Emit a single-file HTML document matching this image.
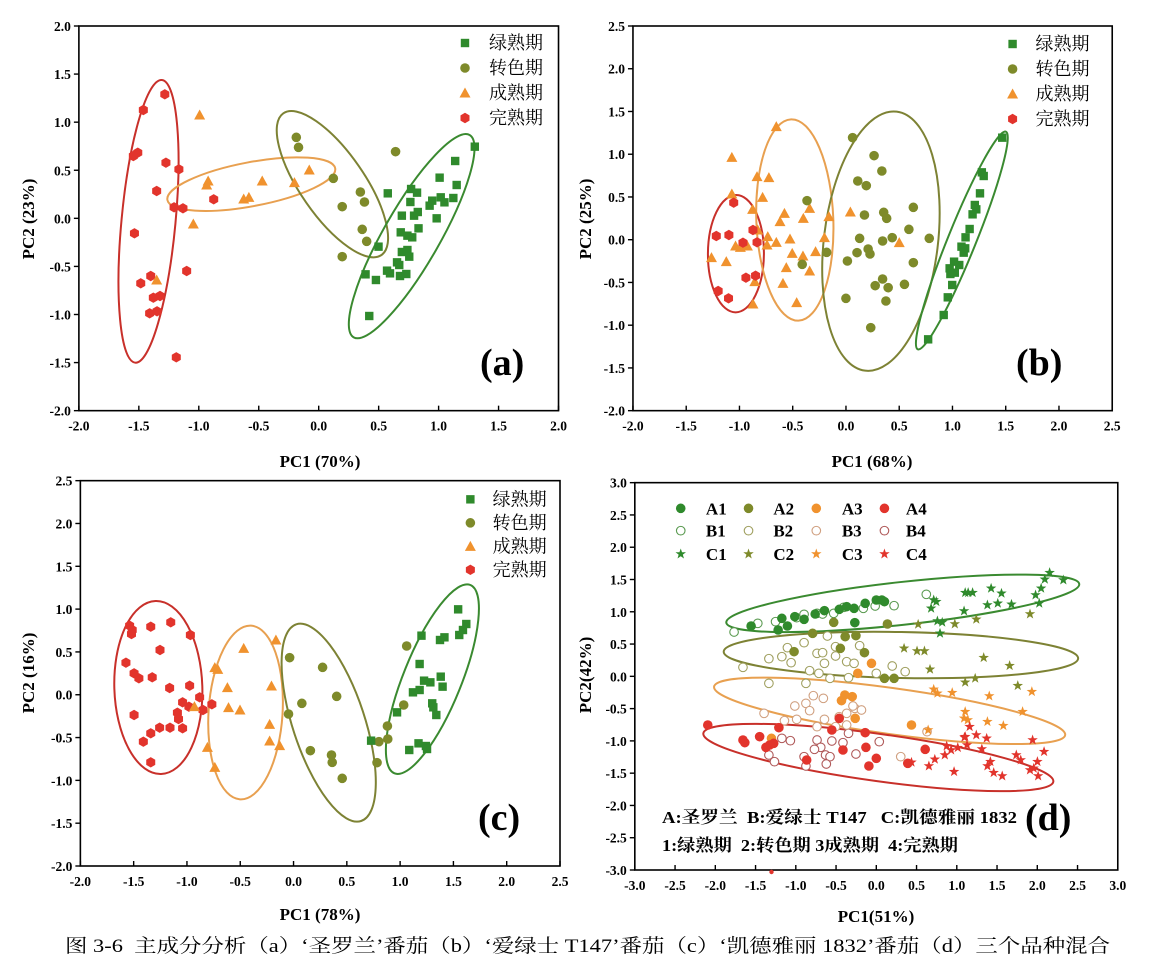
<!DOCTYPE html>
<html><head><meta charset="utf-8">
<style>
html,body{margin:0;padding:0;background:#fff;}
svg{display:block;}
</style></head>
<body>
<svg id="s" width="1160" height="966" xmlns="http://www.w3.org/2000/svg" font-family="'Liberation Serif','Noto Serif CJK SC',serif"></svg>
<script>
const S=document.getElementById('s');
let h='';
const G='#2f8a2c',O='#7e8a2a',R='#e2342c',OR='#f0922e',B4='#b05a5a';
const EG='#3a8a30',EO='#7d8234',EOR='#e8a050',ER='#c8302a';
function panel(c){
  const X=z=>z/2.7+c.ox, Y=z=>z/3+c.oy;
  const L=X(c.f[0]),T=Y(c.f[1]),Rr=X(c.f[2]),Bt=Y(c.f[3]);
  h+=`<rect x="${L}" y="${T}" width="${Rr-L}" height="${Bt-T}" fill="none" stroke="#000" stroke-width="1.6"/>`;
  const [x0,x1,xs]=c.xr,[y0,y1,ys]=c.yr;
  for(let v=x0;v<=x1+1e-9;v+=xs){const px=L+(v-x0)/(x1-x0)*(Rr-L);
    h+=`<line x1="${px}" y1="${Bt}" x2="${px}" y2="${Bt-5}" stroke="#000" stroke-width="1.4"/>`;
    h+=`<text x="${px}" y="${Bt+20}" font-size="13.5" font-weight="bold" text-anchor="middle">${v.toFixed(1)}</text>`;}
  for(let v=y0;v<=y1+1e-9;v+=ys){const py=Bt-(v-y0)/(y1-y0)*(Bt-T);
    h+=`<line x1="${L}" y1="${py}" x2="${L-5}" y2="${py}" stroke="#000" stroke-width="1.4"/>`;
    h+=`<text x="${L-8}" y="${py+5}" font-size="13.5" font-weight="bold" text-anchor="end">${v.toFixed(1)}</text>`;}
  (c.el||[]).forEach(e=>{
    const ax=X(e[0]),ay=Y(e[1]),bx=X(e[2]),by=Y(e[3]);
    const cx=(ax+bx)/2,cy=(ay+by)/2,a=Math.hypot(bx-ax,by-ay)/2,ang=Math.atan2(by-ay,bx-ax)*180/Math.PI;
    h+=`<ellipse cx="${cx}" cy="${cy}" rx="${a}" ry="${e[4]}" transform="rotate(${ang} ${cx} ${cy})" fill="none" stroke="${e[5]}" stroke-width="2"/>`;
  });
  (c.pts||[]).forEach(g=>g.p.forEach(p=>mk(g.m,X(p[0]),Y(p[1]),g.c)));
}
function mk(m,x,y,col){
  if(m=='sq')h+=`<rect x="${x-4.2}" y="${y-4.2}" width="8.4" height="8.4" fill="${col}"/>`;
  else if(m=='ci')h+=`<circle cx="${x}" cy="${y}" r="4.8" fill="${col}"/>`;
  else if(m=='oc')h+=`<circle cx="${x}" cy="${y}" r="4.3" fill="#fff" stroke="${col}" stroke-width="1.1"/>`;
  else if(m=='tr')h+=`<polygon points="${x},${y-5.5} ${x+5.5},${y+4.5} ${x-5.5},${y+4.5}" fill="${col}"/>`;
  else if(m=='hx'){let p=[];for(let i=0;i<6;i++){const a=Math.PI/3*i+Math.PI/6;p.push((x+5.2*Math.cos(a))+','+(y+5.2*Math.sin(a)));}h+=`<polygon points="${p.join(' ')}" fill="${col}"/>`;}
  else if(m=='st'){let p=[];for(let i=0;i<10;i++){const r=i%2?2.2:5.5,a=-Math.PI/2+Math.PI/5*i;p.push((x+r*Math.cos(a))+','+(y+r*Math.sin(a)));}h+=`<polygon points="${p.join(' ')}" fill="${col}"/>`;}
}
function legend(x,y0,dy,tx){
  const it=[['sq',G,'绿熟期'],['ci',O,'转色期'],['tr',OR,'成熟期'],['hx',R,'完熟期']];
  it.forEach((t,i)=>{mk(t[0],x,y0+dy*i,t[1]);h+=`<text x="${tx}" y="${y0+dy*i+6}" font-size="18" font-family="'Noto Serif CJK SC',serif">${t[2]}</text>`;});
}
function txt(x,y,s,fs,extra){h+=`<text x="${x}" y="${y}" font-size="${fs}" ${extra||''}>${s}</text>`;}

// (a)
panel({ox:0,oy:0,f:[213,78,1508,1232],xr:[-2,2,0.5],yr:[-2,2,0.5],
 el:[[437,240,365,1088,27,ER],[452,600,905,505,22,EOR],[765,340,1030,765,32,EO],[1268,405,955,1012,28,EG]],
 pts:[
 {m:'hx',c:R,p:[[445,283],[387,330],[372,458],[360,468],[448,488],[483,508],[423,573],[470,622],[494,625],[577,598],[363,700],[504,813],[407,828],[380,850],[414,893],[432,888],[404,940],[424,934],[476,1072]]},
 {m:'tr',c:OR,p:[[539,345],[562,543],[558,555],[708,543],[658,597],[672,592],[795,548],[835,510],[522,672],[423,840]]},
 {m:'ci',c:O,p:[[800,412],[806,442],[1068,455],[900,535],[973,576],[984,606],[924,620],[978,688],[990,724],[924,770]]},
 {m:'sq',c:G,p:[[1282,440],[1229,483],[1187,533],[1233,555],[1047,580],[1110,567],[1126,578],[1108,606],[1160,617],[1167,602],[1190,592],[1200,607],[1224,594],[1085,647],[1118,647],[1128,636],[1179,655],[1082,697],[1130,685],[1100,707],[1113,712],[1022,740],[1085,756],[1100,750],[1105,770],[1072,787],[1078,795],[987,823],[1045,812],[1053,820],[1080,828],[1097,822],[1015,840],[997,948]]}
 ]});
legend(465,43,25,489);
txt(480,375,'(a)',38,'font-weight="bold"');
txt(320,467,'PC1 (70%)',17,'font-weight="bold" text-anchor="middle"');
txt(0,0,'PC2 (23%)',17,'font-weight="bold" text-anchor="middle" transform="translate(34,219) rotate(-90)"');

// (b)
panel({ox:580,oy:0,f:[143,78,1437,1232],xr:[-2,2.5,0.5],yr:[-2,2.5,0.5],
 el:[[422,585,420,937,28,ER],[570,358,590,962,38.5,EOR],[855,335,770,1112,57,EO],[1150,395,912,1048,14,EG]],
 pts:[
 {m:'tr',c:OR,p:[[530,380],[410,472],[478,530],[510,533],[410,582],[493,592],[466,628],[552,640],[620,625],[603,655],[540,665],[672,650],[480,690],[507,710],[420,738],[433,742],[452,738],[530,727],[567,717],[505,735],[355,773],[395,785],[573,760],[602,768],[636,755],[660,713],[557,803],[620,813],[472,845],[548,850],[467,912],[585,908],[730,636],[862,728]]},
 {m:'hx',c:R,p:[[415,608],[368,708],[402,705],[440,728],[467,690],[478,727],[448,833],[474,827],[373,873],[401,895]]},
 {m:'ci',c:O,p:[[736,413],[794,467],[815,513],[750,543],[773,557],[613,602],[900,622],[768,645],[820,637],[828,655],[888,688],[755,715],[843,713],[943,715],[817,723],[666,757],[748,758],[778,747],[783,762],[722,783],[900,788],[600,793],[817,837],[797,857],[832,863],[876,853],[718,895],[826,903],[785,983]]},
 {m:'sq',c:G,p:[[1140,413],[1085,517],[1090,528],[1080,580],[1066,615],[1070,628],[1060,643],[1052,687],[1041,712],[1030,740],[1040,745],[1036,758],[1024,795],[1010,785],[998,805],[1000,822],[1012,818],[1005,855],[993,892],[982,945],[940,1018]]}
 ]});
legend(580+1168/2.7,44,25,580+1230/2.7);
txt(1016,375,'(b)',38,'font-weight="bold"');
txt(872,467,'PC1 (68%)',17,'font-weight="bold" text-anchor="middle"');
txt(0,0,'PC2 (25%)',17,'font-weight="bold" text-anchor="middle" transform="translate(591,219) rotate(-90)"');

// (c)
panel({ox:0,oy:460,f:[217,62,1512,1218],xr:[-2,2.5,0.5],yr:[-2,2.5,0.5],
 el:[[420,423,435,942,44,ER],[678,497,648,1018,37,EOR],[800,493,975,1083,36,EO],[1270,375,1065,940,29,EG]],
 pts:[
 {m:'hx',c:R,p:[[350,497],[357,510],[407,500],[461,487],[514,525],[355,522],[432,570],[340,608],[362,640],[375,655],[411,652],[458,684],[512,677],[362,765],[493,727],[510,740],[539,712],[548,750],[572,733],[479,758],[482,777],[431,803],[459,803],[493,805],[407,820],[387,845],[407,907]]},
 {m:'tr',c:OR,p:[[658,565],[745,540],[580,623],[588,628],[614,683],[733,678],[525,740],[617,743],[648,750],[728,793],[560,862],[728,843],[755,857],[580,922]]},
 {m:'ci',c:O,p:[[782,593],[871,622],[1098,558],[815,730],[909,709],[779,762],[1090,735],[1046,798],[1047,837],[1023,845],[838,872],[895,885],[897,907],[924,955],[1018,908]]},
 {m:'sq',c:G,p:[[1237,448],[1259,492],[1250,510],[1240,525],[1138,527],[1188,540],[1200,532],[1133,612],[1190,650],[1145,662],[1162,667],[1195,680],[1115,697],[1133,690],[1167,730],[1170,742],[1178,765],[1072,757],[1002,842],[1105,870],[1130,850],[1150,858],[1153,867]]}
 ]});
legend(1270/2.7,460+118/3,23.5,1330/2.7);
txt(478,830,'(c)',38,'font-weight="bold"');
txt(320,920,'PC1 (78%)',17,'font-weight="bold" text-anchor="middle"');
txt(0,0,'PC2 (16%)',17,'font-weight="bold" text-anchor="middle" transform="translate(34,673) rotate(-90)"');

// (d)
panel({ox:580,oy:460,f:[148,68,1452,1230],xr:[-3,3,0.5],yr:[-3,3,0.5],
 el:[[395,488,1348,372,21.4,EG],[388,575,1345,595,23,EO],[362,680,1310,825,23,EOR],[333,820,1278,965,23.6,ER]],
 pts:[
 {m:'oc',c:B4,p:[[545,835],[568,842],[640,840],[650,862],[663,885],[633,868],[675,890],[665,912],[610,918],[525,905],[510,885],[605,890],[680,843],[710,848],[745,882],[808,845],[725,820]]},
 {m:'oc',c:'#d0a080',p:[[630,707],[657,715],[610,730],[580,738],[497,760],[552,782],[585,778],[620,752],[660,778],[700,770],[720,760],[742,745],[760,750],[690,800],[720,795],[640,800],[866,890],[937,815],[737,738]]},
 {m:'oc',c:'#a0a060',p:[[440,622],[510,596],[545,590],[570,608],[560,563],[605,548],[640,580],[655,578],[660,610],[690,560],[690,588],[720,605],[740,610],[755,557],[800,640],[843,618],[878,635],[620,632],[645,640],[510,670],[610,670],[675,655],[725,653],[668,528]]},
 {m:'oc',c:'#5a9a50',p:[[416,516],[480,490],[528,485],[585,473],[605,463],[640,460],[655,462],[685,460],[712,442],[765,445],[797,438],[848,437],[935,403]]},
 {m:'ci',c:G,p:[[462,498],[535,510],[560,498],[545,475],[580,470],[605,478],[635,462],[660,452],[700,448],[720,440],[740,445],[770,430],[800,420],[815,420],[822,425],[742,488]]},
 {m:'ci',c:O,p:[[685,487],[628,520],[716,530],[745,527],[703,565],[578,575],[768,578],[822,655],[848,655],[830,492]]},
 {m:'ci',c:OR,p:[[787,610],[750,640],[706,722],[715,705],[735,710],[743,775],[895,795],[517,835]]},
 {m:'ci',c:R,p:[[345,795],[537,803],[440,840],[445,848],[485,830],[512,855],[523,850],[502,862],[680,810],[700,775],[770,818],[772,862],[710,870],[800,895],[780,918],[885,910],[932,868],[612,900]]},
 {m:'st',c:G,p:[[1268,338],[1305,360],[1255,358],[1245,385],[1230,405],[1240,430],[1110,385],[1138,400],[1040,398],[1060,398],[1048,398],[1100,435],[1128,430],[1165,433],[1037,453],[955,420],[962,425],[948,445],[965,483],[978,487],[972,520]]},
 {m:'st',c:O,p:[[875,565],[910,573],[930,573],[1090,593],[1160,617],[945,628],[1040,667],[1067,655],[1182,677],[1215,462],[1070,478],[1012,492],[913,493]]},
 {m:'st',c:OR,p:[[955,688],[965,700],[1005,698],[1105,708],[1220,695],[1040,755],[1047,780],[1100,785],[1143,797],[1195,755],[940,810],[1037,775]]},
 {m:'st',c:R,p:[[1038,832],[1052,800],[1070,825],[1098,835],[1045,855],[1040,830],[990,858],[1002,870],[1020,863],[985,885],[958,898],[942,918],[1010,935],[1085,867],[1108,905],[1100,918],[1117,938],[1140,948],[1178,885],[1190,900],[1222,840],[1253,875],[1235,905],[1215,930],[1225,925],[1237,948],[895,907]]}
 ]});
(function(){
 const X=z=>z/2.7+580, Y=z=>z/3+460;
 const cols=[G,O,OR,R], ocs=['#5a9a50','#a0a060','#d0a080',B4];
 const mx=[272,455,638,822], lx=[340,522,707,880], ry=[145,212,282];
 for(let i=0;i<4;i++){
  mk('ci',X(mx[i]),Y(ry[0]),cols[i]); txt(X(lx[i]),Y(ry[0])+6,'A'+(i+1),17,'font-weight="bold"');
  mk('oc',X(mx[i]),Y(ry[1]),ocs[i]); txt(X(lx[i]),Y(ry[1])+6,'B'+(i+1),17,'font-weight="bold"');
  mk('st',X(mx[i]),Y(ry[2]),cols[i]); txt(X(lx[i]),Y(ry[2])+6,'C'+(i+1),17,'font-weight="bold"');
 }
})();
h+=`<circle cx="771.5" cy="872" r="2.2" fill="${R}"/>`;
txt(662,823,'A:圣罗兰&#160;&#160;B:爱绿士 T147&#160;&#160;&#160;C:凯德雅丽 1832',17,'font-weight="bold" textLength="355" lengthAdjust="spacingAndGlyphs"');
txt(662,851,'1:绿熟期&#160;&#160;2:转色期 3成熟期&#160;&#160;4:完熟期',17,'font-weight="bold" textLength="296" lengthAdjust="spacingAndGlyphs"');
txt(1025,830,'(d)',38,'font-weight="bold"');
txt(876,922,'PC1(51%)',17,'font-weight="bold" text-anchor="middle"');
txt(0,0,'PC2(42%)',17,'font-weight="bold" text-anchor="middle" transform="translate(591,675) rotate(-90)"');
txt(65,952,'图 3-6&#160;&#160;主成分分析（a）‘圣罗兰’番茄（b）‘爱绿士 T147’番茄（c）‘凯德雅丽 1832’番茄（d）三个品种混合',19,'textLength="1045" lengthAdjust="spacingAndGlyphs"');
S.innerHTML=h;
</script>
</body></html>
